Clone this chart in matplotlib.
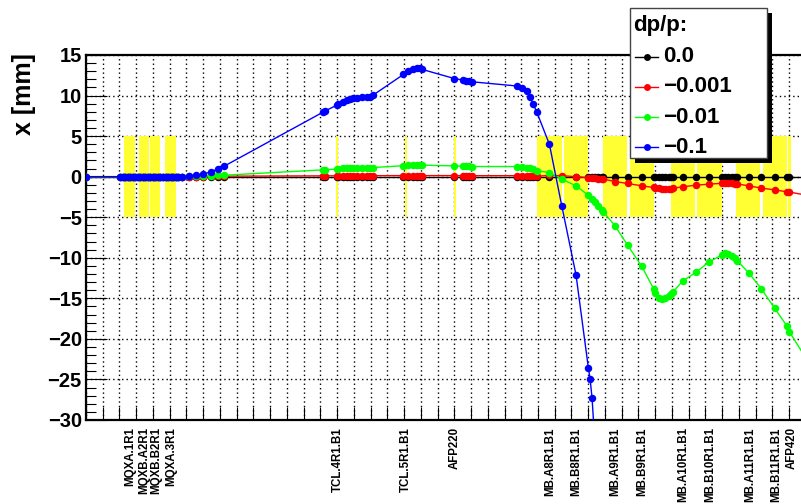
import matplotlib
matplotlib.use("Agg")
import matplotlib.pyplot as plt
from matplotlib.patches import Rectangle
from matplotlib.lines import Line2D
from matplotlib.ticker import MultipleLocator, NullFormatter
import matplotlib.transforms as mtransforms

plt.rcParams['font.family'] = ['Liberation Sans', 'DejaVu Sans']
plt.rcParams['font.weight'] = 'bold'

# ---------------- data ----------------
s_pos = [0.0,
         20.5, 22.0, 23.5, 25.0, 26.5, 28.0, 29.5, 31.0, 32.5, 34.0, 35.5, 37.0, 38.5,
         40.0, 41.5, 43.0, 44.5, 46.0, 47.5, 49.0, 50.5, 52.0, 53.5, 55.0, 57.2,
         61.5, 65.5, 70.0, 74.5, 78.7, 82.6,
         141.8, 142.8, 149.7, 150.7, 153.7, 155.7, 157.7, 159.7, 161.7, 164.7, 167.7, 169.7, 171.6,
         189.6, 192.6, 195.5, 197.5, 199.5, 200.5,
         220.0, 225.4, 227.0, 228.7, 230.4,
         257.3, 260.3, 263.3, 265.2, 267.2, 269.2,
         276.8, 284.2, 292.7,
         300.1, 302.1, 304.1, 306.0, 308.0, 309.0,
         316.0, 323.5, 332.0,
         339.0, 340.0, 342.0, 344.0, 346.0, 348.0, 349.3, 350.5,
         356.4, 364.3, 372.3,
         379.7, 381.7, 383.7, 385.7, 387.7, 389.0,
         396.0, 403.5, 411.3, 418.8, 420.1, 431.0]

x_dp0 = [0.0] * len(s_pos)

x_dp0001 = [0.0] * 26 + [
    0.0, 0.01, 0.02, 0.03, 0.05, 0.06,
    0.10, 0.10, 0.11, 0.11, 0.11, 0.11, 0.11, 0.12, 0.12, 0.12, 0.12, 0.12, 0.12,
    0.13, 0.13, 0.13, 0.13, 0.13, 0.13,
    0.13, 0.12, 0.12, 0.12, 0.12,
    0.12, 0.11, 0.10, 0.09, 0.08, 0.06,
    0.15, 0.12, 0.0,
    -0.12, -0.16, -0.20, -0.24, -0.28, -0.30,
    -0.60, -0.84, -1.13,
    -1.33, -1.38, -1.45, -1.50, -1.52, -1.50, -1.47, -1.43,
    -1.25, -1.05, -0.92,
    -0.82, -0.80, -0.80, -0.82, -0.86, -0.90,
    -1.13, -1.42, -1.62, -1.87, -1.90, -2.30]

x_dp001 = [0.0] * 26 + [
    0.03, 0.06, 0.10, 0.12, 0.15, 0.18,
    0.84, 0.86, 0.92, 0.95, 1.02, 1.05, 1.07, 1.08, 1.10, 1.10, 1.12, 1.12, 1.13,
    1.35, 1.40, 1.42, 1.42, 1.42, 1.42,
    1.33, 1.28, 1.27, 1.26, 1.25,
    1.25, 1.20, 1.13, 1.03, 0.92, 0.75,
    0.50, -0.30, -1.13,
    -2.30, -2.70, -3.10, -3.60, -4.05, -4.33,
    -6.06, -8.44, -11.06,
    -13.8, -14.3, -14.9, -15.1, -15.0, -14.75, -14.5, -14.25,
    -12.87, -11.8, -10.5,
    -9.67, -9.46, -9.54, -9.75, -10.07, -10.37,
    -11.88, -13.85, -16.2, -18.45, -19.1, -22.7]

s_blue = [0.0,
          20.5, 22.0, 23.5, 25.0, 26.5, 28.0, 29.5, 31.0, 32.5, 34.0, 35.5, 37.0, 38.5,
          40.0, 41.5, 43.0, 44.5, 46.0, 47.5, 49.0, 50.5, 52.0, 53.5, 55.0, 57.2,
          61.5, 65.5, 70.0, 74.5, 78.7, 82.6,
          141.8, 142.8, 149.7, 150.7, 153.7, 155.7, 157.7, 159.7, 161.7, 164.7, 167.7, 169.7, 171.6,
          189.6, 192.6, 195.5, 197.5, 199.5, 200.5,
          220.0, 225.4, 227.0, 228.7, 230.4,
          257.3, 260.3, 263.3, 265.2, 267.2, 269.2,
          276.8, 284.2, 292.7, 300.1, 301.1, 302.3, 304.0]
x_dp01 = [0.0] * 26 + [
    0.10, 0.18, 0.30, 0.60, 0.92, 1.30,
    7.98, 8.10, 8.80, 8.93, 9.26, 9.42, 9.58, 9.67, 9.75, 9.79, 9.79, 9.88, 10.07,
    12.6, 13.0, 13.3, 13.35, 13.35, 13.24,
    12.1, 11.9, 11.85, 11.8, 11.7,
    11.18, 10.98, 10.5, 9.8, 8.9, 8.0,
    4.0, -3.6, -12.1, -23.6, -24.9, -27.3, -33.0]

# element apertures (start, end) in s [m]
elem_start = [22.7, 31.6, 38.2, 47.2, 149.2, 190.6, 219.8,
              269.6, 285.7, 309.0, 325.0, 349.5, 365.2, 388.3, 404.6, 419.6]
elem_end = [29.3, 37.6, 44.2, 53.7, 150.4, 191.8, 221.0,
            284.2, 300.1, 323.4, 339.3, 363.8, 379.7, 402.6, 419.0, 420.9]
aperture = 5.0

elem_names = ['MQXA.1R1', 'MQXB.A2R1', 'MQXB.B2R1', 'MQXA.3R1',
              'TCL.4R1.B1', 'TCL.5R1.B1', 'AFP220',
              'MB.A8R1.B1', 'MB.B8R1.B1', 'MB.A9R1.B1', 'MB.B9R1.B1',
              'MB.A10R1.B1', 'MB.B10R1.B1', 'MB.A11R1.B1', 'MB.B11R1.B1', 'AFP420']
elem_label_s = [26.3, 34.6, 41.8, 51.2, 150.7, 191.2, 220.4,
                277.2, 292.7, 316.0, 332.0, 356.8, 372.8, 396.7, 412.6, 421.6]

series_labels = ['0.0', '\u22120.001', '\u22120.01', '\u22120.1']
series_colors = ['black', '#ff0000', '#00ff00', '#0000ff']

# ---------------- figure ----------------
W, H = 801, 504
fig = plt.figure(figsize=(W / 100, H / 100), dpi=100)
L, R, T, B = 86, 801, 55, 420
ax = fig.add_axes([L / W, 1 - B / H, (R - L) / W, (B - T) / H])

ax.set_xlim(0, 427.1)
ax.set_ylim(-30, 15)

# yellow apertures
for a, b in zip(elem_start, elem_end):
    ax.add_patch(Rectangle((a, -aperture), b - a, 2 * aperture,
                           facecolor='#ffff33', edgecolor='none', zorder=1))

# grid
ax.xaxis.set_major_locator(MultipleLocator(10))
ax.yaxis.set_major_locator(MultipleLocator(5))
ax.yaxis.set_minor_locator(MultipleLocator(1))
ax.xaxis.set_major_formatter(NullFormatter())
ax.grid(True, which='major', color='black', linestyle=(0, (1, 2.2)), linewidth=1.0, zorder=0.5)
ax.set_axisbelow(True)

# series
xs = [s_pos, s_pos, s_pos, s_blue]
ys = [x_dp0, x_dp0001, x_dp001, x_dp01]
for i, (sx, sy) in enumerate(zip(xs, ys)):
    ax.plot(sx, sy, color=series_colors[i], lw=1.0, marker='o', ms=5.4,
            markeredgewidth=0, zorder=3 + i, clip_on=True)

# spines / ticks
for sp in ['left', 'bottom', 'top']:
    ax.spines[sp].set_linewidth(1.6)
ax.spines['right'].set_visible(False)
ax.tick_params(axis='x', which='major', direction='in', length=9.5, width=0.8, bottom=True, top=False)
ax.tick_params(axis='y', which='major', direction='in', length=15, width=0.8, left=True, right=False,
               labelsize=14.5, pad=3)
ax.tick_params(axis='y', which='minor', direction='in', length=7.5, width=0.8, left=True, right=False)
for lab in ax.get_yticklabels():
    lab.set_fontweight('bold')

# element labels
trans = mtransforms.blended_transform_factory(ax.transData, ax.transAxes)
for name, sx in zip(elem_names, elem_label_s):
    ax.text(sx, -0.02, name, transform=trans, rotation=90, ha='center', va='top',
            fontsize=8.3, fontweight='bold', clip_on=False)

# y label
fig.text(24 / W, 1 - 53 / H, 'x [mm]', rotation=90, ha='center', va='top',
         fontsize=18, fontweight='bold')

# legend (manual, ROOT style with shadow)
def fx(px):
    return px / W

def fy(py):
    return 1 - py / H

bx0, by0, bx1, by1 = 630, 8, 767, 158
fig.add_artist(Rectangle((fx(bx0 + 5), fy(by1 + 5)), fx(bx1 - bx0), (by1 - by0) / H,
                         transform=fig.transFigure, facecolor='black', edgecolor='none', zorder=10))
fig.add_artist(Rectangle((fx(bx0), fy(by1)), fx(bx1 - bx0), (by1 - by0) / H,
                         transform=fig.transFigure, facecolor='white', edgecolor='#444444',
                         linewidth=1.0, zorder=11))
fig.text(fx(633), fy(25), 'dp/p:', ha='left', va='center', fontsize=16, fontweight='bold', zorder=12)
entry_y = [57, 87, 117, 147]
for lab, col, ey in zip(series_labels, series_colors, entry_y):
    fig.add_artist(Line2D([fx(635), fx(658)], [fy(ey), fy(ey)], color=col, lw=1.0,
                          transform=fig.transFigure, zorder=12))
    fig.add_artist(Line2D([fx(647)], [fy(ey)], color=col, marker='o', ms=5, markeredgewidth=0,
                          transform=fig.transFigure, zorder=12))
    fig.text(fx(663), fy(ey), lab, ha='left', va='center', fontsize=16, fontweight='bold', zorder=12)

fig.savefig('out.png', dpi=100)
